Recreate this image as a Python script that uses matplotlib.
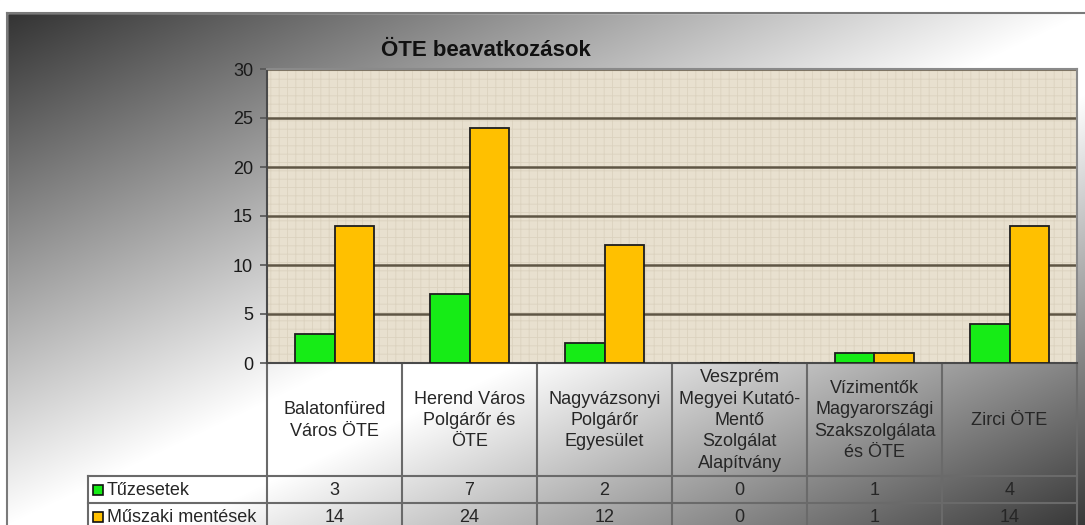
import numpy as np
import matplotlib
matplotlib.use("Agg")
import matplotlib.pyplot as plt
from matplotlib.patches import Rectangle
from matplotlib.transforms import blended_transform_factory

# ---------------- data ----------------
title = "ÖTE beavatkozások"
categories = [
    "Balatonfüred\nVáros ÖTE",
    "Herend Város\nPolgárőr és\nÖTE",
    "Nagyvázsonyi\nPolgárőr\nEgyesület",
    "Veszprém\nMegyei Kutató-\nMentő\nSzolgálat\nAlapítvány",
    "Vízimentők\nMagyarországi\nSzakszolgálata\nés ÖTE",
    "Zirci ÖTE",
]
series_names = ["Tűzesetek", "Műszaki mentések"]
tuzesetek = [3, 7, 2, 0, 1, 4]
muszaki_mentesek = [14, 24, 12, 0, 1, 14]
y_ticks = [0, 5, 10, 15, 20, 25, 30]

# ---------------- style ----------------
plt.rcParams["font.family"] = ["Liberation Sans", "DejaVu Sans"]
plt.rcParams["hatch.linewidth"] = 0.6
GREEN = "#16ec16"
ORANGE = "#ffc000"
EDGE = "#1e1e1e"
LINE = "#6a6a6a"
TXT = "#262626"

W, H = 1085, 525
fig = plt.figure(figsize=(W / 100, H / 100), dpi=100)

# background (pixel coordinates, y downwards)
bg = fig.add_axes([0, 0, 1, 1], zorder=-10)
bg.set_xlim(0, W)
bg.set_ylim(H, 0)
bg.axis("off")
fx0, fy0 = 7, 13
xx, yy = np.meshgrid(np.arange(W) + 0.5, np.arange(H) + 0.5)
u = 0.5 * (xx - fx0) / (W - fx0) + 0.5 * (yy - fy0) / (H - fy0)
g = np.interp(u, [0, 0.5, 0.58, 1.0], [0.20, 1.0, 1.0, 0.22])
bg.imshow(np.dstack([g, g, g]), extent=(0, W, H, 0), aspect="auto",
          interpolation="bilinear", zorder=0)
bg.add_patch(Rectangle((0, 0), W, fy0, color="white", zorder=1))
bg.add_patch(Rectangle((0, 0), fx0, H, color="white", zorder=1))
bg.plot([fx0, W], [fy0, fy0], color="#7a7a7a", lw=1.5, zorder=2)
bg.plot([fx0, fx0], [fy0, H], color="#7a7a7a", lw=1.5, zorder=2)

bg.text(486, 56, title, ha="center", va="baseline", fontsize=16,
        fontweight="bold", color="#111111", zorder=3)

# main plot area
pl, pr, pt, pb = 267, 1077, 69, 363
ax = fig.add_axes([pl / W, 1 - pb / H, (pr - pl) / W, (pb - pt) / H])
ax.set_facecolor("#e8e0cf")
ax.add_patch(Rectangle((0, 0), 1, 1, transform=ax.transAxes, facecolor="none",
                       edgecolor="#dbd2bf", hatch="++", lw=0, zorder=0.1))
x = np.arange(len(categories))
bw = 0.29
ax.bar(x - bw / 2, tuzesetek, bw, color=GREEN, edgecolor=EDGE, lw=1.3, zorder=3)
ax.bar(x + bw / 2, muszaki_mentesek, bw, color=ORANGE, edgecolor=EDGE, lw=1.3, zorder=3)
ax.set_xlim(-0.5, len(categories) - 0.5)
ax.set_ylim(y_ticks[0], y_ticks[-1])
ax.set_yticks(y_ticks)
ax.set_xticks([])
ax.yaxis.grid(True, color="#5e5544", lw=1.8)
ax.set_axisbelow(True)
ax.tick_params(axis="y", length=5, width=1.2, color="#555555", pad=5,
               labelsize=13, labelcolor="#1a1a1a")
for s in ["top", "right"]:
    ax.spines[s].set_color("#8a8a8a")
    ax.spines[s].set_linewidth(1.5)
ax.spines["left"].set_color("#4a4a4a")
ax.spines["left"].set_linewidth(1.5)
ax.spines["bottom"].set_color("#4a4a4a")
ax.spines["bottom"].set_linewidth(1.5)

# data table below (x from data coords, y in pixels)
tr = blended_transform_factory(ax.transData, bg.transData)
row_top = 476
row_h = 27
lab_left = 88
n = len(categories)
for i in range(n + 1):
    bg.plot([i - 0.5, i - 0.5], [pb, H], color=LINE, lw=1.5, transform=tr,
            zorder=4, clip_on=False)
for yl in [row_top, row_top + row_h]:
    bg.plot([lab_left, pr], [yl, yl], color=LINE, lw=1.5, zorder=4)
bg.plot([lab_left, lab_left], [row_top, H], color=LINE, lw=1.5, zorder=4)

for i, c in enumerate(categories):
    bg.text(i, (pb + row_top) / 2 + 1, c, transform=tr, ha="center", va="center",
            fontsize=13, color=TXT, linespacing=1.34, zorder=5)

for r, (name, vals, col) in enumerate(zip(series_names,
                                          [tuzesetek, muszaki_mentesek],
                                          [GREEN, ORANGE])):
    yc = row_top + row_h * (r + 0.5)
    bg.add_patch(Rectangle((93, yc - 5), 10, 10, facecolor=col, edgecolor="#111111",
                           lw=1.2, zorder=5))
    bg.text(107, yc + 1, name, ha="left", va="center", fontsize=13,
            color=TXT, zorder=5)
    for i, v in enumerate(vals):
        bg.text(i, yc + 1, str(v), transform=tr, ha="center", va="center",
                fontsize=13, color=TXT, zorder=5)

fig.savefig("out.png", dpi=100)
